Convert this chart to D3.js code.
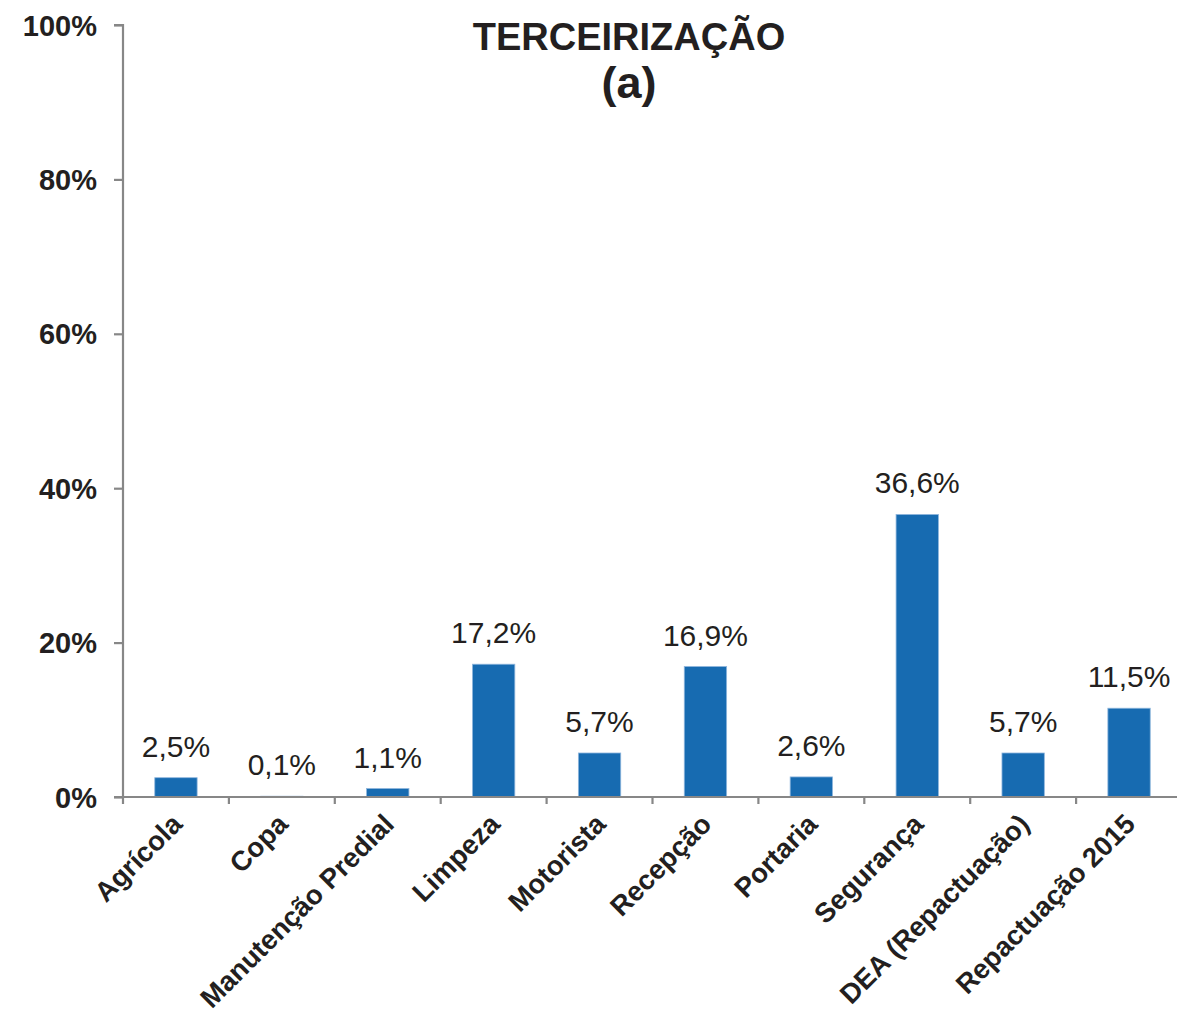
<!DOCTYPE html>
<html>
<head>
<meta charset="utf-8">
<script src="https://cdn.jsdelivr.net/npm/d3@7"></script>
<style>
  body { margin: 0; background: #fff; }
  text { font-family: "Liberation Sans", Arial, sans-serif; fill: #231f20; }
</style>
</head>
<body>
<script>
var categories = ['Agrícola', 'Copa', 'Manutenção Predial', 'Limpeza', 'Motorista',
    'Recepção', 'Portaria', 'Segurança', 'DEA (Repactuação)', 'Repactuação 2015']
var values = [0.025, 0.001, 0.011, 0.172, 0.057, 0.169, 0.026, 0.366, 0.057, 0.115]
var valueLabels = ['2,5%', '0,1%', '1,1%', '17,2%', '5,7%', '16,9%', '2,6%', '36,6%', '5,7%', '11,5%']
var yTicks = [0, 0.2, 0.4, 0.6, 0.8, 1]
var yTickLabels = ['0%', '20%', '40%', '60%', '80%', '100%']
var titleLines = ['TERCEIRIZAÇÃO', '(a)']

var width = 1177,
    height = 1017
var margin = {top: 25, right: 0, bottom: 220, left: 123}

var svg = d3.select('body').append('svg')
    .attr('width', width)
    .attr('height', height)

var x = d3.scaleBand()
    .domain(categories)
    .range([margin.left, 1182])
    .paddingInner(0.6)
    .paddingOuter(0.3)

var y = d3.scaleLinear()
    .domain([0, 1])
    .range([height - margin.bottom, margin.top])

var step = x.step()
var axisColor = '#878787'

// y axis
var yAxis = svg.append('g')
    .attr('transform', `translate(${margin.left},0)`)
    .call(d3.axisLeft(y).tickValues(yTicks).tickSize(9).tickPadding(17)
        .tickFormat((d, i) => yTickLabels[i]))
yAxis.select('.domain').attr('stroke', axisColor).attr('stroke-width', 2.2)
    .attr('d', `M-9,${y(1)}H0V${y(0)}`)
yAxis.selectAll('.tick line').attr('stroke', axisColor).attr('stroke-width', 2.2)
yAxis.selectAll('.tick text')
    .style('font-size', '29px')
    .style('font-weight', 'bold')
    .attr('fill', '#231f20')
    .attr('dy', '0.35em')

// bars
svg.append('g').selectAll('rect')
    .data(values).enter()
    .append('rect')
    .attr('x', (d, i) => x(categories[i]))
    .attr('y', d => y(d))
    .attr('width', x.bandwidth())
    .attr('height', d => y(0) - y(d))
    .attr('fill', '#176bb1')
    .attr('stroke', '#8fb6dd')
    .attr('stroke-width', 0.8)

// value labels
svg.append('g').selectAll('text')
    .data(values).enter()
    .append('text')
    .attr('x', (d, i) => x(categories[i]) + x.bandwidth() / 2)
    .attr('y', d => y(d) - 21)
    .attr('text-anchor', 'middle')
    .style('font-size', '30px')
    .text((d, i) => valueLabels[i])

// x axis line + ticks between categories
var x0 = y(0)
svg.append('line')
    .attr('x1', margin.left - 9).attr('x2', 1182)
    .attr('y1', x0).attr('y2', x0)
    .attr('stroke', axisColor).attr('stroke-width', 2.2)

var bounds = categories.map(c => x(c) + x.bandwidth() / 2 - step / 2)
bounds.push(x(categories[categories.length - 1]) + x.bandwidth() / 2 + step / 2)
svg.append('g').selectAll('line')
    .data(bounds).enter()
    .append('line')
    .attr('x1', d => d).attr('x2', d => d)
    .attr('y1', x0).attr('y2', x0 + 7)
    .attr('stroke', axisColor).attr('stroke-width', 2.2)

// category labels
svg.append('g').selectAll('text')
    .data(categories).enter()
    .append('text')
    .attr('transform', d => `translate(${x(d) + x.bandwidth() / 2 + 1},${x0 + 22}) rotate(-45)`)
    .attr('text-anchor', 'end')
    .attr('dy', '0.35em')
    .style('font-size', '27.5px')
    .style('font-weight', 'bold')
    .text(d => d)

// title
svg.append('text')
    .attr('x', 629).attr('y', 50)
    .attr('text-anchor', 'middle')
    .style('font-size', '38px')
    .style('font-weight', 'bold')
    .text(titleLines[0])
svg.append('text')
    .attr('x', 629).attr('y', 98)
    .attr('text-anchor', 'middle')
    .style('font-size', '45px')
    .style('font-weight', 'bold')
    .text(titleLines[1])
</script>
</body>
</html>
